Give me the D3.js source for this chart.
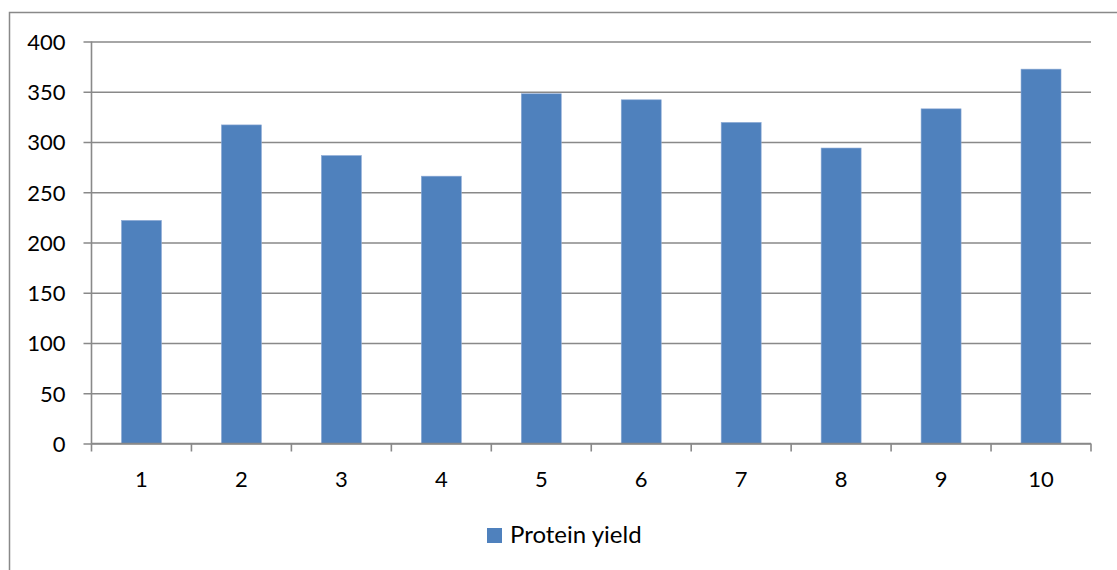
<!DOCTYPE html>
<html>
<head>
<meta charset="utf-8">
<script src="https://cdn.jsdelivr.net/npm/d3@7"></script>
<style>
  html, body { margin: 0; padding: 0; background: #fff; }
  svg { display: block; }
  text { font-family: Lato, "Open Sans", sans-serif; fill: #000; }
</style>
</head>
<body>
<svg id="chart" width="1117" height="570"></svg>
<script>
// Protein yield per sample
const categories = ["1", "2", "3", "4", "5", "6", "7", "8", "9", "10"];
const proteinYield = [222, 317, 286.5, 266, 348, 342, 319.5, 294, 333, 372.5];
const yTicks = [0, 50, 100, 150, 200, 250, 300, 350, 400];
const seriesName = "Protein yield";

const W = 1117, H = 570;
const plot = { left: 91.5, right: 1091, top: 41.5, bottom: 443.5 };
const barColor = "#4F81BD";
const gridColor = "#898989";

const svg = d3.select("#chart");

// Chart frame (extends past the bottom/right edges)
svg.append("rect")
  .attr("x", 9.5).attr("y", 12.5)
  .attr("width", W + 20).attr("height", H + 20)
  .attr("fill", "none").attr("stroke", gridColor).attr("stroke-width", 1.5);

const x = d3.scaleBand()
  .domain(categories)
  .range([plot.left, plot.right])
  .paddingInner(0.6)
  .paddingOuter(0.3);

const xStep = d3.scaleBand()
  .domain(categories)
  .range([plot.left, plot.right]);

const y = d3.scaleLinear()
  .domain([0, 400])
  .range([plot.bottom, plot.top]);

// Horizontal gridlines with outward ticks on the left
const yAxis = d3.axisLeft(y)
  .tickValues(yTicks)
  .tickSize(-(plot.right - plot.left))
  .tickSizeOuter(0)
  .tickFormat(d3.format("d"))
  .tickPadding(26);

const gy = svg.append("g")
  .attr("transform", `translate(${plot.left},0)`)
  .call(yAxis);
gy.select(".domain").remove();
gy.selectAll(".tick line")
  .attr("x1", -8)
  .attr("stroke", gridColor).attr("stroke-width", 1.6);
gy.selectAll(".tick text")
  .attr("font-size", 22)
  .attr("dy", "0.36em")
  .style("font-family", "Lato, 'Open Sans', sans-serif");

// Vertical axis line
svg.append("line")
  .attr("x1", plot.left).attr("x2", plot.left)
  .attr("y1", plot.top).attr("y2", plot.bottom)
  .attr("stroke", gridColor).attr("stroke-width", 1.6);

// Bars
svg.append("g")
  .selectAll("rect")
  .data(proteinYield)
  .join("rect")
  .attr("x", (d, i) => x(categories[i]))
  .attr("y", d => y(d))
  .attr("width", x.bandwidth())
  .attr("height", d => y(0) - y(d))
  .attr("fill", barColor)
  .attr("stroke", "#8eabd6")
  .attr("stroke-width", 0.6);

// Category axis: ticks sit on band boundaries
const gx = svg.append("g")
  .attr("transform", `translate(0,${plot.bottom})`);
gx.append("line")
  .attr("x1", plot.left).attr("x2", plot.right)
  .attr("stroke", gridColor).attr("stroke-width", 1.6);
const boundaries = categories.map(c => xStep(c)).concat([plot.right]);
gx.selectAll("line.tk")
  .data(boundaries)
  .join("line")
  .attr("class", "tk")
  .attr("x1", d => d).attr("x2", d => d)
  .attr("y1", 0).attr("y2", 8)
  .attr("stroke", gridColor).attr("stroke-width", 1.6);
gx.selectAll("text")
  .data(categories)
  .join("text")
  .attr("x", d => x(d) + x.bandwidth() / 2)
  .attr("y", 43)
  .attr("text-anchor", "middle")
  .attr("font-size", 22)
  .text(d => d);

// Legend
const legend = svg.append("g").attr("transform", "translate(487,528)");
legend.append("rect")
  .attr("width", 15).attr("height", 15)
  .attr("fill", barColor);
legend.append("text")
  .attr("x", 23).attr("y", 15)
  .attr("font-size", 24)
  .text(seriesName);
</script>
</body>
</html>
